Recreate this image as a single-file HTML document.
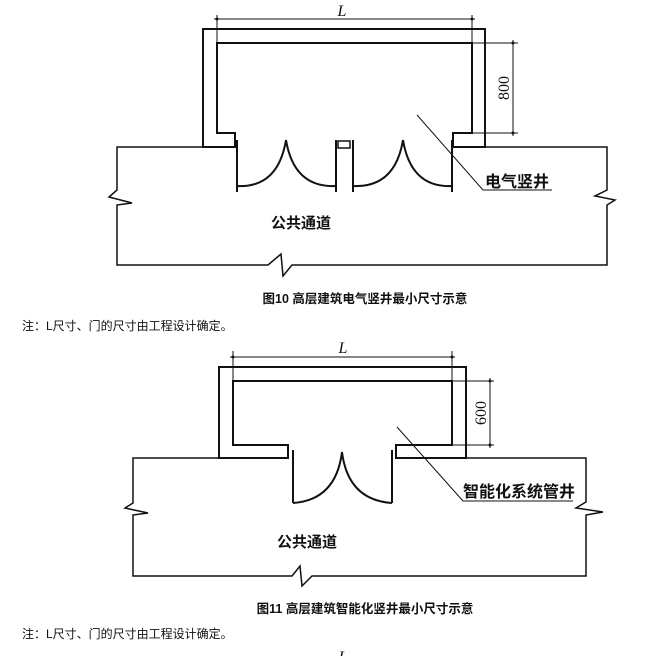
<!DOCTYPE html>
<html><head><meta charset="utf-8"><style>
html,body{margin:0;padding:0;background:#fff;width:660px;height:656px;overflow:hidden}
svg{display:block}
.s{font-family:"Liberation Sans","Noto Sans CJK SC",sans-serif}
.r{font-family:"Liberation Serif",serif}
</style></head><body>
<svg width="660" height="656" viewBox="0 0 660 656" xmlns="http://www.w3.org/2000/svg">
<g fill="none" stroke="#111" stroke-width="2" stroke-linejoin="miter">
<path d="M203,147 V29 H485 V147 H453 V133 H472 V43 H217 V133 H235 V147 Z"/>
<path d="M237,140 V192 M336,140 V192 M353,140 V192 M452,140 V192"/>
<path d="M237,186 Q278,188 286,140 Q294,188 336,186"/>
<path d="M353,186 Q395,188 403,140 Q411,188 452,186"/>
<rect x="338" y="141" width="12" height="7" stroke-width="1.5"/>
<path d="M203,147 H117 V190 L109,197 L132,203 L117,205 V265 H268 L281,254 L283,276 L292,265 H607 V205 L615,200 L595,196 L607,190 V147 H485" stroke-width="1.5"/>
<path d="M219,458 V367 H466 V458 H396 V445 H452 V381 H233 V445 H288 V458 Z"/>
<path d="M293,450 V503 M392,450 V503"/>
<path d="M293,503 Q336,500 342,452 Q348,500 392,503"/>
<path d="M219,458 H133 V503 L125,508 L148,513 L133,515 V576 H292 L300,566 L302,586 L312,576 H586 V515 L603,512 L576,508 L586,502 V458 H466" stroke-width="1.5"/>
</g>
<g fill="none" stroke="#111" stroke-width="1">
<path d="M217,15 V133 M472,15 V133 M214,19 H475"/>
<path d="M472,43 H518 M472,133 H518 M513,40 V136"/>
<path d="M417,115 L483,190 H552"/>
<path d="M233,351 V381 M452,351 V381 M230,357 H455"/>
<path d="M452,381 H494 M452,445 H494 M490,378 V448"/>
<path d="M397,427 L463,501 H573"/>
</g>
<g fill="#111">
<circle cx="217" cy="19" r="1.5"/><circle cx="472" cy="19" r="1.5"/>
<circle cx="513" cy="43" r="1.5"/><circle cx="513" cy="133" r="1.5"/>
<circle cx="233" cy="357" r="1.5"/><circle cx="452" cy="357" r="1.5"/>
<circle cx="490" cy="381" r="1.5"/><circle cx="490" cy="445" r="1.5"/>
</g>
<g fill="#111">
<text class="r" x="342" y="16" font-style="italic" font-size="16" text-anchor="middle">L</text>
<text class="r" transform="translate(509,88) rotate(-90)" font-size="16" text-anchor="middle">800</text>
<text class="s" x="485" y="187" font-size="16" font-weight="bold">电气竖井</text>
<text class="s" x="301" y="228" font-size="15" font-weight="bold" text-anchor="middle">公共通道</text>
<text class="s" x="365" y="303" font-size="12.5" font-weight="bold" text-anchor="middle">图10 高层建筑电气竖井最小尺寸示意</text>
<text class="s" x="22" y="330" font-size="12">注：L尺寸、门的尺寸由工程设计确定。</text>

<text class="r" x="343" y="353" font-style="italic" font-size="16" text-anchor="middle">L</text>
<text class="r" transform="translate(486,413) rotate(-90)" font-size="16" text-anchor="middle">600</text>
<text class="s" x="463" y="497" font-size="16" font-weight="bold">智能化系统管井</text>
<text class="s" x="307" y="547" font-size="15" font-weight="bold" text-anchor="middle">公共通道</text>
<text class="s" x="365" y="613" font-size="12.5" font-weight="bold" text-anchor="middle">图11 高层建筑智能化竖井最小尺寸示意</text>
<text class="s" x="22" y="638" font-size="12">注：L尺寸、门的尺寸由工程设计确定。</text>
<text class="r" x="343" y="662" font-style="italic" font-size="16" text-anchor="middle">L</text>
</g>
</svg>
</body></html>
